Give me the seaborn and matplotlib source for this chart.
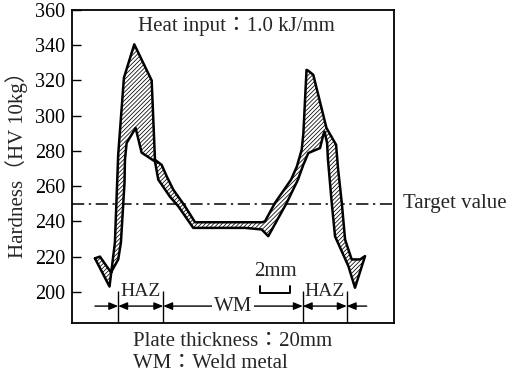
import numpy as np
import matplotlib
matplotlib.use("Agg")
import matplotlib.pyplot as plt
import seaborn as sns

# Hardness traverse across the weld (position in mm from weld centre, HV 10kg)
# Outer boundary of the hardness scatter band
outer_pos = [-9.20, -8.23, -7.87, -7.65, -7.27, -6.58, -5.42, -5.20, -4.75, -4.42,
             -3.98, -3.20, -2.53, -0.50, 1.93, 2.13, 2.80, 3.87, 4.25, 4.58,
             4.69, 4.90, 5.02, 5.35, 6.23, 6.87, 7.00, 7.25, 7.47, 7.91, 8.47]
outer_hv = [219, 203, 228, 278, 321.5, 340.5, 320, 275, 272, 265.6,
            258, 248.6, 239.5, 239.5, 239.5, 240, 250.5, 263.7, 271, 280.7,
            290, 326, 325.5, 323.2, 293, 283.5, 270, 250.5, 229.7, 218.4, 218.4]
# Inner boundary of the hardness scatter band
inner_pos = [-8.87, -8.13, -7.65, -7.47, -7.31, -7.23, -7.20, -7.09, -6.49, -6.09,
             -5.20, -4.98, -4.20, -3.65, -2.65, 0.80, 1.91, 2.35, 3.58, 4.33,
             4.69, 5.02, 5.80, 6.02, 6.10, 6.27, 6.33, 6.58, 6.80, 7.69,
             8.13, 8.80]
inner_hv = [220, 211, 218.4, 228, 250.5, 262, 275, 284.5, 293, 279,
            274, 263.7, 254, 248.6, 236.3, 236.3, 235.4, 231.6, 250.5, 263.7,
            272.2, 278.8, 281.6, 289.2, 291, 284.5, 275, 250.5, 231.5, 214.6,
            202.3, 220.3]

target_hv = 250
yticks = [200, 220, 240, 260, 280, 300, 320, 340, 360]
# Zone boundaries: HAZ outer edge, fusion line, fusion line, HAZ outer edge
zone_marks = [-7.65, -4.65, 4.65, 7.58]
dim_left_end, dim_right_end = -9.20, 8.91

sns.set_theme(style="ticks")
plt.rcParams["font.family"] = ["Liberation Serif", "Noto Sans CJK JP", "DejaVu Sans"]
plt.rcParams["hatch.linewidth"] = 0.55
plt.rcParams["hatch.color"] = "black"

fig = plt.figure(figsize=(5.15, 3.78), dpi=100)
ax = fig.add_axes([72 / 515, 1 - 323 / 378, 322 / 515, 313 / 378])

ymin, ymax = 182.3, 360
ax.set_xlim(-10.73, 10.73)
ax.set_ylim(ymin, ymax)

# hatched scatter band
poly_x = np.concatenate([outer_pos, inner_pos[::-1]])
poly_y = np.concatenate([outer_hv, inner_hv[::-1]])
ax.fill(poly_x, poly_y, facecolor="white", edgecolor="black", hatch="////////",
        linewidth=0, zorder=2)
sns.lineplot(x=np.append(poly_x, poly_x[0]), y=np.append(poly_y, poly_y[0]),
             sort=False, estimator=None, color="black", linewidth=1.8, ax=ax,
             zorder=3)

# target hardness
ax.axhline(target_hv, color="black", linewidth=1.1,
           linestyle=(0, (8, 3, 1.5, 3)), zorder=1)
ax.text(1.028, target_hv, "Target value", transform=ax.get_yaxis_transform(),
        ha="left", va="center", fontsize=15, clip_on=False)

ax.text(0.205, 0.949, "Heat input：1.0 kJ/mm", transform=ax.transAxes,
        ha="left", va="center", fontsize=15)

# zone dimension lines
ax.vlines(zone_marks, ymin, 200.3, color="black", linewidth=1.0)
y_dim = 191.9
arrow_kw = dict(color="black", lw=1.0, shrinkA=0, shrinkB=0, mutation_scale=9)
ax.annotate("", xy=(zone_marks[0], y_dim), xytext=(dim_left_end, y_dim),
            arrowprops=dict(arrowstyle="-|>,head_length=0.6,head_width=0.25", **arrow_kw))
ax.annotate("", xy=(zone_marks[3], y_dim), xytext=(dim_right_end, y_dim),
            arrowprops=dict(arrowstyle="-|>,head_length=0.6,head_width=0.25", **arrow_kw))
for a, b in zip(zone_marks[:-1], zone_marks[1:]):
    ax.annotate("", xy=(b, y_dim), xytext=(a, y_dim),
                arrowprops=dict(arrowstyle="<|-|>,head_length=0.6,head_width=0.25", **arrow_kw))
ax.text(0, y_dim, "WM", ha="center", va="center", fontsize=15,
        bbox=dict(facecolor="white", edgecolor="none", pad=1.5), zorder=4)
ax.text((zone_marks[0] + zone_marks[1]) / 2, 200.3, "HAZ", ha="center",
        va="center", fontsize=14)
ax.text((zone_marks[2] + zone_marks[3]) / 2, 200.3, "HAZ", ha="center",
        va="center", fontsize=14)

# 2 mm scale bar
ax.plot([1.8, 1.8, 3.8, 3.8], [203.2, 199.5, 199.5, 203.2], color="black",
        linewidth=1.4)
ax.text(2.8, 211.3, "2mm", ha="center", va="center", fontsize=15)

ax.set_yticks(yticks)
ax.set_xticks([])
ax.tick_params(axis="y", direction="in", length=6.5, width=1.0,
               labelsize=14.5, pad=5, colors="black")
for s in ax.spines.values():
    s.set_color("black")
    s.set_linewidth(1.3)
ax.set_xlabel("")
ax.set_ylabel("")

fig.text(17 / 515, 1 - 160 / 378, "Hardness（HV 10kg）", rotation=90,
         ha="center", va="center", fontsize=15)
fig.text(133 / 515, 1 - 341.7 / 378, "Plate thickness：20mm", ha="left",
         va="center", fontsize=15)
fig.text(133 / 515, 1 - 363 / 378, "WM：Weld metal", ha="left", va="center",
         fontsize=15)

fig.savefig("out.png", dpi=100)
